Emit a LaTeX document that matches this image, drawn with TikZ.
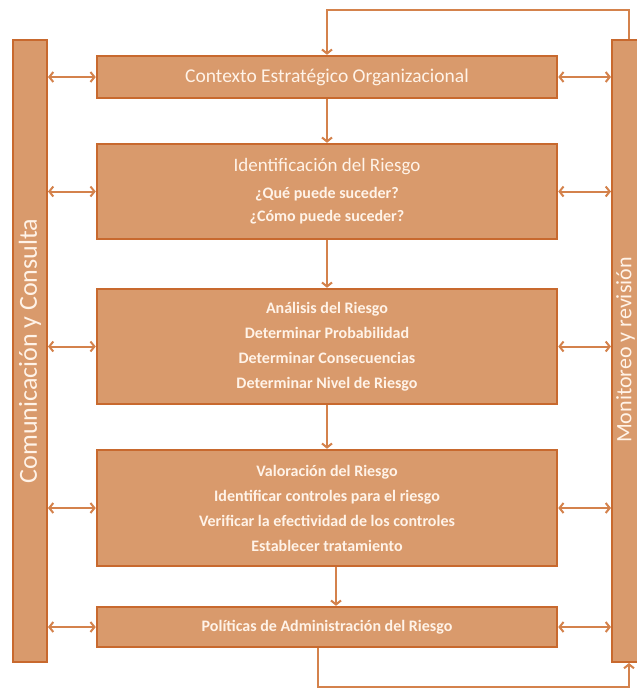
\documentclass[tikz,border=0pt]{standalone}
\usepackage{fontspec}
\setmainfont{Carlito}
\usetikzlibrary{arrows.meta}
\definecolor{boxFill}{HTML}{D99A6C}
\definecolor{boxLine}{HTML}{C8692E}
\definecolor{linkLine}{HTML}{D4824C}
\definecolor{boxText}{HTML}{FFF3E8}
\begin{document}
\begin{tikzpicture}[x=1pt, y=-1pt,
    boxStyle/.style={rectangle, draw=boxLine, line width=2.5pt, fill=boxFill, text=boxText, minimum width=460pt, align=center, font=\fontsize{16}{25}\selectfont\bfseries},
    barStyle/.style={rectangle, draw=boxLine, line width=2pt, fill=boxFill, text=boxText, minimum width=622pt, minimum height=34pt, rotate=90, font=\fontsize{26}{30}\selectfont},
    linkStyle/.style={draw=linkLine, line width=2pt, >={Straight Barb[length=4pt,width=10pt]}}]
    \useasboundingbox (0,0) rectangle (637,689);

    % side bars
    \node[barStyle](comm) at (30, 351) {Comunicación y Consulta};
    \node[barStyle](moni) at (629, 351) {};
    \node[rotate=90, text=boxText, inner sep=0pt, font=\fontsize{22}{26}\selectfont](moniText) at (625.5, 350) {Monitoreo y revisión};

    % process boxes
    \node[boxStyle, minimum height=42pt, font=\fontsize{19.5}{24}\selectfont](ctx) at (327, 77) {Contexto Estratégico Organizacional};
    \node[boxStyle, minimum height=95pt, font=\fontsize{16}{23}\selectfont\bfseries](ident) at (327, 191.5) {{\fontsize{19}{24}\selectfont\mdseries Identificación del Riesgo}\\[4pt] ¿Qué puede suceder?\\ ¿Cómo puede suceder?};
    \node[boxStyle, minimum height=115pt](anal) at (327, 346.5) {Análisis del Riesgo\\ Determinar Probabilidad\\ Determinar Consecuencias\\ Determinar Nivel de Riesgo};
    \node[boxStyle, minimum height=116pt](valor) at (327, 508) {Valoración del Riesgo\\ Identificar controles para el riesgo\\ Verificar la efectividad de los controles\\ Establecer tratamiento};
    \node[boxStyle, minimum height=40pt](polit) at (327, 627) {Políticas de Administración del Riesgo};

    \coordinate (fTop) at (0, 10);
    \coordinate (fBottom) at (0, 687);

    % links to the side bars
    \draw[linkStyle, <->] (comm.south |- ctx.west) -- (ctx.west);
    \draw[linkStyle, <->] (comm.south |- ident.west) -- (ident.west);
    \draw[linkStyle, <->] (comm.south |- anal.west) -- (anal.west);
    \draw[linkStyle, <->] (comm.south |- valor.west) -- (valor.west);
    \draw[linkStyle, <->] (comm.south |- polit.west) -- (polit.west);
    \draw[linkStyle, <->] (ctx.east) -- (moni.north |- ctx.east);
    \draw[linkStyle, <->] (ident.east) -- (moni.north |- ident.east);
    \draw[linkStyle, <->] (anal.east) -- (moni.north |- anal.east);
    \draw[linkStyle, <->] (valor.east) -- (moni.north |- valor.east);
    \draw[linkStyle, <->] (polit.east) -- (moni.north |- polit.east);

    % main flow
    \draw[linkStyle, ->] (ctx) -- (ident);
    \draw[linkStyle, ->] (ident) -- (anal);
    \draw[linkStyle, ->] (anal) -- (valor);
    \draw[linkStyle, ->] ([xshift=9pt]valor.south) -- ([xshift=9pt]polit.north);

    % feedback loop
    \draw[linkStyle, ->] (moni.east) |- (fTop -| ctx.north) -- (ctx.north);
    \draw[linkStyle, ->] ([xshift=-9pt]polit.south) |- (fBottom -| moni.west) -- (moni.west);
\end{tikzpicture}
\end{document}
